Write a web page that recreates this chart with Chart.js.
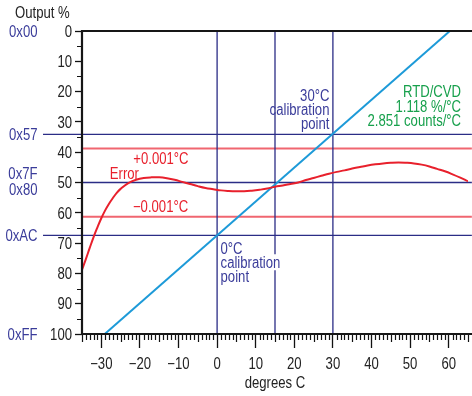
<!DOCTYPE html>
<html>
<head>
<meta charset="utf-8">
<script src="https://cdn.jsdelivr.net/npm/chart.js@4.4.1/dist/chart.umd.min.js"></script>
<style>
  html, body { margin: 0; padding: 0; background: #fff; }
  canvas { display: block; }
</style>
</head>
<body>
<canvas id="chart" width="472" height="396"></canvas>
<script>
const FONT = '16px "Liberation Sans", Arial, Helvetica, sans-serif';
const SX = 0.82;   // narrow the face like Helvetica Narrow

// error curve (Output %)
let errX = [-35, -34, -33, -32, -31, -30, -29, -28, -27, -26, -25, -23, -21, -19, -17, -15, -13, -11, -9, -7, -5, -3, -1,
            1, 3, 5, 7, 9, 11, 13, 15, 17, 19, 21, 23, 25, 27, 29, 31, 33, 35, 37, 39, 41, 43, 45, 47, 49, 51, 53, 55, 57, 59, 61, 63, 65];
let errY = [78.8, 75.3, 71.6, 68.0, 64.8, 61.8, 59.2, 57.0, 55.1, 53.4, 52.1, 50.2, 49.1, 48.5, 48.3, 48.3, 48.6, 49.1, 49.8, 50.5, 51.2, 51.8, 52.2,
            52.6, 52.8, 52.9, 52.9, 52.7, 52.4, 52.0, 51.4, 51.0, 50.5, 50.0, 49.2, 48.5, 47.8, 47.1, 46.5, 46.0, 45.4, 44.9, 44.4, 44.0, 43.7, 43.5, 43.4, 43.5, 43.7, 44.1, 44.7, 45.5, 46.3, 47.3, 48.4, 49.6];

// RTD/CVD transfer line through both calibration points
let lineX = [-29.1, 60.3];
let lineY = [100, 0];

let xTicks = [-30, -20, -10, 0, 10, 20, 30, 40, 50, 60];
let yTicks = [0, 10, 20, 30, 40, 50, 60, 70, 80, 90, 100];

let markX = [0, 15, 30];          // vertical markers, degrees C
let codeY = [34.1, 67.45];        // 0x57 and 0xAC
let midY = 50;                    // 0x7F / 0x80
let tolY = [38.8, 61.3];          // +/-0.001 degC
let hexLabels = ['0x00', '0x57', '0x7F', '0x80', '0xAC', '0xFF'];
let hexVals = [0, 34.1, 49.8, 50.2, 67.45, 100];

const NAVY = '#2b2d86';
const HEX = '#3a3c9a';
const RED = '#e8202c';
const PINK = '#f06670';
const BLUE = '#1d9ad8';
const GREEN = '#17a04c';
const INK = '#222';

function seg(x0, y0, x1, y1) {
  return [{x: x0, y: y0}, {x: x1, y: y1}];
}

function lineSet(data, color, width, order, clip) {
  return {
    data, borderColor: color, borderWidth: width, pointRadius: 0,
    fill: false, order, clip: clip ? false : undefined
  };
}

let datasets = [];
datasets.push({
  data: errX.map((x, i) => ({x, y: errY[i]})),
  borderColor: RED, borderWidth: 2, pointRadius: 0, tension: 0.4, order: 0
});
datasets.push(lineSet(lineX.map((x, i) => ({x, y: lineY[i]})), BLUE, 2, 1));
tolY.forEach(y => datasets.push(lineSet(seg(-35, y, 66, y), PINK, 2, 3, true)));
codeY.forEach(y => datasets.push(lineSet(seg(-45.1, y, 66, y), NAVY, 1.3, 2, true)));
datasets.push(lineSet(seg(-35, midY, 66, midY), NAVY, 1.3, 2, true));
markX.forEach(x => datasets.push(lineSet(seg(x, 0, x, 100), NAVY, 1.3, 2)));

// narrow text, baseline placed so the cap height is centred on cy
function say(ctx, s, x, cy, align, color, bg) {
  let w = ctx.measureText(s).width * SX;
  let left = align === 'left' ? x : align === 'right' ? x - w : x - w / 2;
  if (bg) {
    ctx.fillStyle = '#fff';
    ctx.fillRect(left - 1, cy - 8, w + 2, 16);
  }
  ctx.save();
  ctx.translate(left, cy + 5.7);
  ctx.scale(SX, 1);
  ctx.textAlign = 'left';
  ctx.textBaseline = 'alphabetic';
  ctx.fillStyle = color;
  ctx.fillText(s, 0, 0);
  ctx.restore();
}

function block(ctx, lines, x, cy, align, color, bg) {
  lines.forEach((s, i) => say(ctx, s, x, cy + i * 14.3, align, color, bg));
}

const decor = {
  id: 'decor',
  afterDatasetsDraw(chart) {
    let ctx = chart.ctx;
    let a = chart.chartArea;
    let xs = chart.scales.x, ys = chart.scales.y;
    let W = chart.width;
    ctx.save();
    ctx.font = FONT;

    // annotation texts
    block(ctx, ['+0.001°C'], xs.getPixelForValue(-21.7), ys.getPixelForValue(42.0), 'left', RED);
    block(ctx, ['Error'], xs.getPixelForValue(-27.8), ys.getPixelForValue(46.9), 'left', RED);
    block(ctx, ['\u22120.001°C'], xs.getPixelForValue(-21.8), ys.getPixelForValue(57.9), 'left', RED);
    block(ctx, ['0°C', 'calibration', 'point'], xs.getPixelForValue(0.9), ys.getPixelForValue(71.6), 'left', HEX, true);
    block(ctx, ['30°C', 'calibration', 'point'], xs.getPixelForValue(29.1), ys.getPixelForValue(21.1), 'right', HEX);
    block(ctx, ['RTD/CVD', '1.118 %/°C', '2.851 counts/°C'], xs.getPixelForValue(63.2), ys.getPixelForValue(20.0), 'right', GREEN);

    // hex codes at left
    hexLabels.forEach((s, i) => {
      let off = s === '0x7F' ? -9 : s === '0x80' ? 6 : 0;
      say(ctx, s, 37.5, ys.getPixelForValue(hexVals[i]) + off, 'right', HEX);
    });

    // tick labels from the scales' own ticks
    xs.ticks.forEach(t => {
      let s = t.value < 0 ? '\u2212' + Math.abs(t.value) : String(t.value);
      say(ctx, s, xs.getPixelForValue(t.value), 363, 'center', INK);
    });
    ys.ticks.forEach(t => {
      say(ctx, String(t.value), a.left - 10, ys.getPixelForValue(t.value), 'right', INK);
    });

    // axis titles
    say(ctx, 'Output %', 15, 12.5, 'left', INK);
    say(ctx, 'degrees C', (a.left + a.right) / 2, 382.5, 'center', INK);

    // minor ticks
    ctx.strokeStyle = '#111';
    ctx.lineWidth = 1.2;
    ctx.beginPath();
    for (let v = -35; v <= 65; v++) {
      if (v % 10 === 0) continue;
      let px = Math.round(xs.getPixelForValue(v)) + 0.5;
      let len = v % 5 === 0 ? 8 : 6;
      ctx.moveTo(px, a.bottom);
      ctx.lineTo(px, a.bottom + len);
    }
    for (let v = 5; v < 100; v += 10) {
      let py = Math.round(ys.getPixelForValue(v)) + 0.5;
      ctx.moveTo(a.left, py);
      ctx.lineTo(a.left - 5, py);
    }
    ctx.stroke();

    // frame: left axis, bottom axis, top line
    ctx.strokeStyle = '#161616';
    ctx.lineWidth = 2.2;
    ctx.beginPath();
    ctx.moveTo(a.left, a.top);
    ctx.lineTo(W, a.top);
    ctx.moveTo(a.left, a.top - 1);
    ctx.lineTo(a.left, a.bottom + 1);
    ctx.moveTo(a.left - 1, a.bottom);
    ctx.lineTo(W, a.bottom);
    ctx.stroke();
    ctx.restore();
  }
};

new Chart(document.getElementById('chart'), {
  type: 'line',
  data: {datasets},
  options: {
    responsive: false,
    animation: false,
    layout: {padding: {left: 0, top: 31, right: 4, bottom: 0}},
    plugins: {legend: {display: false}, tooltip: {enabled: false}},
    scales: {
      x: {
        type: 'linear', min: -35, max: 65,
        border: {display: false},
        grid: {display: true, drawOnChartArea: false, tickLength: 14, tickWidth: 1.3, tickColor: '#111'},
        ticks: {display: false, autoSkip: false, maxRotation: 0},
        afterBuildTicks: s => { s.ticks = xTicks.map(v => ({value: v})); },
        afterFit: s => { s.height = 62; }
      },
      y: {
        type: 'linear', min: 0, max: 100, reverse: true,
        border: {display: false},
        grid: {display: true, drawOnChartArea: false, tickLength: 7, tickColor: '#111', tickWidth: 1.3},
        ticks: {display: false},
        afterBuildTicks: s => { s.ticks = yTicks.map(v => ({value: v})); },
        afterFit: s => { s.width = 82; }
      }
    }
  },
  plugins: [decor]
});
</script>
</body>
</html>
